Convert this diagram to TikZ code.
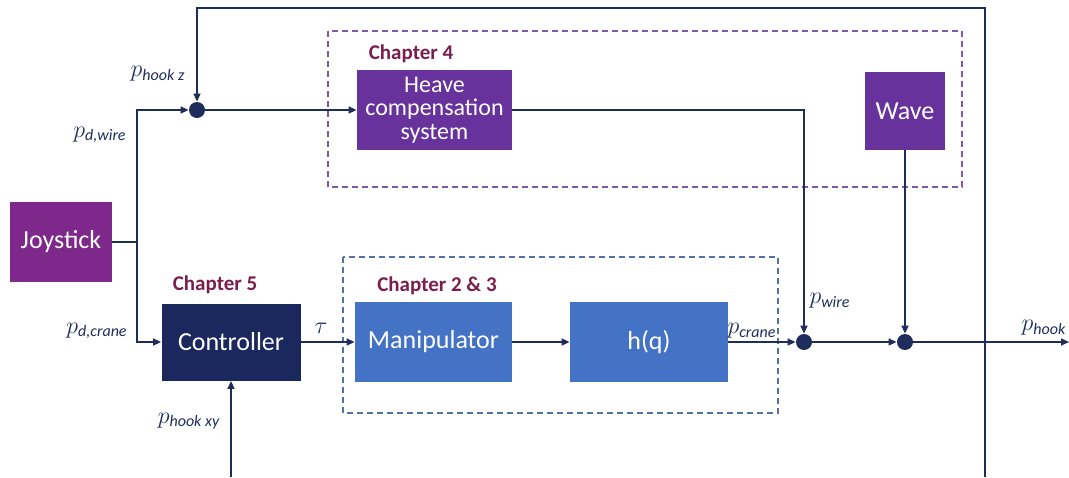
\documentclass[tikz,border=0pt]{standalone}
\usepackage{amsmath}
\usepackage{fontspec}
\setmainfont{Carlito}
\usetikzlibrary{arrows.meta}

\definecolor{sigcol}{RGB}{31,45,92}
\definecolor{joycol}{RGB}{125,40,138}
\definecolor{heavecol}{RGB}{104,50,156}
\definecolor{ctrlcol}{RGB}{27,40,94}
\definecolor{plantcol}{RGB}{68,114,196}
\definecolor{chapcol}{RGB}{122,30,78}
\definecolor{boxpurple}{RGB}{128,88,168}
\definecolor{boxblue}{RGB}{80,115,170}

% 添字はイタリック体のテキストで
\newcommand{\sigsub}[1]{\textit{#1}}

\tikzset{block/.style={draw=none,text=white,align=center,inner sep=0pt,
    font=\fontsize{13}{13}\selectfont}}
\tikzset{sig/.style={draw=sigcol,line width=0.75pt,
    -{Triangle[length=4pt,width=3.5pt]}}}
\tikzset{wire/.style={draw=sigcol,line width=0.75pt}}
\tikzset{sumdot/.style={circle,fill=sigcol,minimum size=8pt,inner sep=0pt}}
\tikzset{chap/.style={text=chapcol,font=\fontsize{10.5}{12}\selectfont\bfseries}}
\tikzset{lbl/.style={text=sigcol,inner sep=0pt,font=\fontsize{12}{14}\selectfont}}
\tikzset{grp/.style={line width=0.75pt,dash pattern=on 3pt off 2pt}}

\begin{document}
\begin{tikzpicture}[x=0.5pt,y=-0.5pt]

\useasboundingbox (0,0) rectangle (1069,477);

%   枠（章ごとのまとまり）
\draw[grp,boxpurple] (328,31) rectangle (962,187);
\draw[grp,boxblue] (343,257) rectangle (778,413);

%   ブロック
\node[block,fill=joycol,minimum width=51pt,minimum height=40pt]
    (joy) at (61,242) {Joystick};
\node[block,fill=ctrlcol,minimum width=69.5pt,minimum height=38.5pt]
    (ctrl) at (231,342) {Controller};
\node[block,fill=plantcol,minimum width=78.5pt,minimum height=40pt]
    (manip) at (433.5,342) {Manipulator};
\node[block,fill=plantcol,minimum width=79pt,minimum height=40pt]
    (hq) at (649,342) {h(q)};
\node[block,fill=heavecol,minimum width=77.5pt,minimum height=40pt,
    font=\fontsize{12}{11.8}\selectfont]
    (heave) at (434.5,110) {Heave\\compensation\\system};
\node[block,fill=heavecol,minimum width=40pt,minimum height=39pt]
    (wave) at (905,111) {Wave};

%   加え合わせ点
\node[sumdot] (sum1) at (197,110) {};
\node[sumdot] (sum2) at (804,342) {};
\node[sumdot] (sum3) at (905,342) {};

%   章ラベル
\node[chap] (chap4) at (411,54) {Chapter 4};
\node[chap] (chap5) at (215,285) {Chapter 5};
\node[chap] (chap23) at (437,286) {Chapter 2 \& 3};

%   補助点
\coordinate (split) at (137,242);
\coordinate (fbR) at (985,477);
\coordinate (fbTop) at (197,8);
\coordinate (fbL) at (231,477);
\coordinate (out) at (1069,342);

%   信号線
\draw[wire] (joy.east) -- (split);
\draw[sig] (split) |- (sum1.west);
\draw[sig] (split) |- (ctrl.west);
\draw[sig] (sum1.east) -- (heave.west);
\draw[sig] (heave.east) -| (sum2.north);
\draw[sig] (wave.south) -- (sum3.north);
\draw[sig] (ctrl.east) -- (manip.west);
\draw[sig] (manip.east) -- (hq.west);
\draw[sig] (hq.east) -- (sum2.west);
\draw[sig] (sum2.east) -- (sum3.west);
\draw[sig] (sum3.east) -- (out);

%   フィードバック
\draw[sig] (fbR) |- (fbTop) -- (sum1.north);
\draw[sig] (fbL) -- (ctrl.south);

%   信号ラベル
\node[lbl] (lhookz) at (158,74) {$p_{\sigsub{hook z}}$};
\node[lbl] (ldwire) at (100,135) {$p_{\sigsub{d,wire}}$};
\node[lbl] (ldcrane) at (97,331) {$p_{\sigsub{d,crane}}$};
\node[lbl] (ltau) at (321,328) {$\tau$};
\node[lbl] (lhookxy) at (189,421) {$p_{\sigsub{hook xy}}$};
\node[lbl] (lcrane) at (752,331) {$p_{\sigsub{crane}}$};
\node[lbl] (lwire) at (830,301) {$p_{\sigsub{wire}}$};
\node[lbl] (lhook) at (1044,328) {$p_{\sigsub{hook}}$};

\end{tikzpicture}
\end{document}
